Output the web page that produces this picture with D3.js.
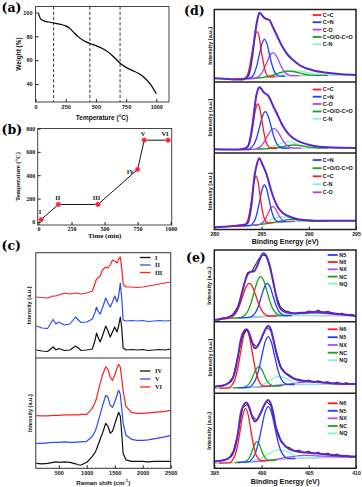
<!DOCTYPE html>
<html><head><meta charset="utf-8">
<script src="https://cdn.jsdelivr.net/npm/d3@7"></script>
<style>html,body{margin:0;padding:0;background:#fff}svg{display:block}</style>
</head><body>
<svg id="fig" width="362" height="487"></svg>
<script>
// ---------------- (a) TGA ----------------
const tgaTemp   = [25,30,40,55,80,110,150,200,250,280,310,350,400,450,500,550,600,650,700,750,800,850,900,950,1000];
const tgaWeight = [99.5,97.5,95,93.6,92.6,92,91.2,90.2,88.8,87,84,80,76.3,74,72.2,70,67,62.5,57.5,54,51.5,49,45.5,40,32];
const tgaMarks  = [150,450,700];
const aTicksX = [0,250,500,750,1000];
const aTicksY = [40,60,80,100];
// ---------------- (b) heating program ----------------
const progTime   = [20,150,450,750,800,980];
const progTemp   = [20,150,150,450,700,700];
const progLabels = ["I","II","III","IV","V","VI"];
const bTicksX = [0,250,500,750,1000];
const bTicksY = [0,200,400,600,800];
// ---------------- (c) Raman ----------------
const ramanShift = [100,200,300,400,450,500,600,700,800,850,900,1000,1100,1150,1175,1200,1240,1280,1340,1380,1420,1460,1500,1540,1570,1600,1625,1650,1700,1800,1900,2000,2100,2200,2300,2400,2500];
const ramanI   = [8,7,6.5,11,8,9.5,7.5,8,12,10,7.5,8,9,18,25,21,16,22,32,27,21,26,31,26,32,41,30,10,8,8.5,8,8.5,7.5,8,8.5,8,9];
const ramanII  = [32,30,29.5,38.5,34,36,33,34,41,38,35.5,36,39,46,51,47,44,50,60,55,51,56,62,56,62,75,60,38,37,37.5,37,37.5,36.5,37,37.5,37,37.5];
const ramanIII = [61,60.5,60,62,62,63,65,64,65,64.5,64,65,67,75,79,80,82,88,91,90,93,98,97,95,99,101,90,74,71,71,70.5,71,72,73,74,75,76];
const ramanIV  = [5,4.5,5,6,6.5,6,6.5,6,4.5,3.5,3.3,6,12,16,19,23,29,35,45,42,35,37,44,51,56,52,35,15,8.5,7,7,7,6.5,7,7,7,7];
const ramanV   = [25,25,25.5,26,26,26,26.5,26,26,26.5,26.5,27,32,37,41,46,54,62,73,71,63,61,66,73,78,74,60,45,33,29,28,28,28.5,29.5,30.5,31.5,33];
const ramanVI  = [52.7,52.5,52.5,53,53,53,53.5,53.5,53.5,53.5,54,54,60,66,70,76,85,93,101.5,99,91,88,93,100,104,101,90,78,62,56,55,55,55.5,56,56.5,57,58];
const ramanUpperNames = ["I","II","III"];
const ramanLowerNames = ["IV","V","VI"];
const cTicksX = [500,1000,1500,2000,2500];
// ---------------- (d) C 1s ----------------
const dNames = ["C=C","C=N","C-O","C=O/O-C=O","C-N"];
const d1Legend = ["C=C","C=N","C-O","C=O/O-C=O","C-N"];
const d2Legend = ["C=C","C=N","C-O","C=O/O-C=O","C-N"];
const d3Legend = ["C=N","C=O/O-C=O","C=C","C-N","C-O"];
const dTicksX = [280,285,290,295];
const d1Envelope = [[280,3.7],[281,3.2],[282,2.6],[282.8,2.4],[283.2,3.2],[283.53,5.3],[283.8,13],[284.06,28.7],[284.25,43],[284.42,55],[284.6,64],[284.77,69.3],[284.95,68],[285.2,65],[285.5,63.2],[285.83,62],[286.1,57],[286.4,51],[286.7,45],[287.2,35.5],[287.8,27],[288.4,21.5],[289,17],[289.8,13.5],[290.6,11.3],[291.5,9.8],[292.4,8.7],[293.5,7.7],[295,7]];
const d1Background = [[280,3.7],[282,3],[283.5,3.3],[284.5,3.8],[285.5,4.6],[286.5,5.4],[287.5,6],[289,6.4],[295,7]];
const d1Peaks = [
 [[282,3],[283.1,3.4],[283.4,5.2],[283.6,9.6],[283.8,18.6],[284.05,32],[284.3,45],[284.52,50.3],[284.75,45.2],[284.95,32.4],[285.2,19.3],[285.4,10.6],[285.6,6.5],[285.85,5.1],[286.5,5.4]],
 [[283,3.2],[283.71,3.5],[283.98,5.2],[284.24,8.8],[284.5,16.3],[284.77,27.3],[285.04,38.1],[285.3,42.7],[285.57,38.4],[285.83,28],[286.1,17.5],[286.36,10.4],[286.63,7.1],[286.89,5.9],[287.5,6]],
 [[283.5,3.3],[284.22,3.5],[284.55,4.7],[284.88,7.1],[285.21,12],[285.54,19.1],[285.87,26.2],[286.2,29.3],[286.53,26.7],[286.86,20.3],[287.19,13.7],[287.52,9.2],[287.85,7.1],[288.18,6.4],[289,6.4]],
 [[284,3.6],[284.5,3.8],[285.05,4.4],[285.6,5.4],[286.15,6.7],[286.7,8.5],[287.25,10.2],[287.8,11],[288.35,10.5],[288.9,9.3],[289.45,8],[290,7.2],[290.55,6.7],[291.1,6.6],[292,6.7]],
 [[283.5,3.3],[284.3,3.7],[285,4.4],[285.7,5.5],[286.4,6.9],[287.1,8.7],[287.8,10.3],[288.5,11],[289.2,10.6],[289.9,9.4],[290.6,8.1],[291.3,7.3],[292,6.9],[292.7,6.8],[294,6.9]]
];
const d2Envelope = [[280,3.7],[281,3.5],[282,3.4],[282.8,3.8],[283.2,4.6],[283.53,6.3],[283.8,14],[284.06,29.7],[284.25,44],[284.42,56],[284.6,63],[284.77,65.7],[284.95,64.5],[285.2,61],[285.45,59],[285.65,58],[285.95,53],[286.3,45.5],[286.7,38],[287.2,28],[287.8,19.7],[288.4,14.5],[289,11.3],[289.8,8.8],[290.6,7],[291.5,6],[292.5,5.4],[295,5]];
const d2Background = [[280,3.6],[283,3.4],[284,3.7],[285,4.1],[286,4.4],[287,4.6],[288,4.8],[290,4.9],[295,5]];
const d2Peaks = [
 [[282,3.4],[283.25,3.5],[283.48,5.5],[283.7,9.8],[283.93,18.5],[284.15,31.4],[284.38,44.1],[284.6,49],[284.83,44.2],[285.05,31.7],[285.28,19],[285.5,10.5],[285.73,6.4],[285.95,5],[286.6,4.5]],
 [[283,3.4],[283.6,3.5],[283.9,5.2],[284.2,8.7],[284.5,15.8],[284.8,26.3],[285.1,36.8],[285.4,41.3],[285.7,37],[286,26.8],[286.3,16.5],[286.6,9.5],[286.9,6.2],[287.2,5],[288,4.8]],
 [[283.5,3.5],[284.2,3.7],[284.55,4.7],[284.9,6.6],[285.25,10.7],[285.6,16.6],[285.95,22.2],[286.3,24.7],[286.65,22.4],[287,16.9],[287.35,11.3],[287.7,7.4],[288.05,5.7],[288.4,4.8],[289.2,4.9]],
 [[284.5,3.8],[285.1,4.1],[285.65,4.4],[286.2,4.9],[286.75,5.6],[287.3,6.6],[287.85,7.6],[288.4,8],[288.95,7.6],[289.5,6.8],[290.05,5.9],[290.6,5.3],[291.15,5],[292,5]],
 [[284,3.7],[284.8,3.9],[285.3,4.4],[285.8,5.2],[286.3,6.6],[286.8,8.6],[287.3,10.5],[287.8,11.3],[288.3,10.6],[288.8,8.8],[289.3,7],[289.8,5.8],[290.3,5.2],[290.8,5],[292,5]]
];
const d3Envelope = [[280,2.2],[281,2.8],[282,3.6],[283,4.5],[283.5,6],[283.75,14],[283.95,26],[284.25,52.8],[284.5,65],[284.77,71.2],[285.05,66],[285.5,56],[285.75,48],[286,39.5],[286.35,30],[286.7,22.8],[287.2,17],[287.8,13.5],[288.4,11.5],[289,10],[289.8,9.3],[290.6,8.8],[292,8.7],[295,8.8]];
const d3Background = [[280,2.2],[282,3.2],[283.5,3.8],[284.5,4.5],[285.5,5.8],[286.5,7],[287.5,7.8],[289,8.2],[295,8.5]];
const d3Peaks = [
 [[282,3.2],[283.16,3.7],[283.37,6],[283.58,10.5],[283.79,19.9],[284,33.9],[284.21,47.6],[284.42,53.5],[284.63,47.9],[284.84,34.6],[285.05,20.9],[285.26,11.9],[285.47,7.8],[285.68,6.4],[286.3,6.8]],
 [[283,3.5],[283.8,4],[284.05,5.8],[284.3,9.6],[284.55,17.3],[284.8,28.6],[285.05,39.5],[285.3,44.5],[285.55,40.3],[285.8,29.8],[286.05,19.1],[286.3,12],[286.55,8.7],[286.8,7.6],[287.6,7.9]],
 [[284,4.2],[284.68,4.7],[284.93,5.7],[285.18,7.5],[285.43,10.9],[285.68,15.8],[285.93,20.6],[286.18,22.8],[286.43,21.2],[286.68,17],[286.93,12.6],[287.18,9.8],[287.43,8.4],[287.68,7.9],[288.5,8.1]],
 [[284,4.2],[285.1,5.3],[286.1,6.9],[286.6,7.7],[287.1,8.7],[287.6,9.6],[288.1,10],[288.6,9.9],[289.1,9.4],[289.6,8.9],[290.1,8.6],[291.1,8.4],[292,8.4]],
 [[283.5,3.8],[284.07,4.2],[284.57,4.7],[285.07,5.9],[285.57,7.6],[286.07,9.8],[286.57,11.8],[287.07,12.8],[287.57,12.5],[288.07,11.2],[288.57,9.8],[289.07,8.9],[289.57,8.5],[290.07,8.3],[291,8.4]]
];
// ---------------- (e) N 1s ----------------
const eNames = ["N6","N5","NC","NQ","NX"];
const e1Legend = ["N5","N6","NX","NC","NQ"];
const e2Legend = ["N6","N5","NX","NC","NQ"];
const e3Legend = ["N6","N5","NX","NC","NQ"];
const eTicksX = [395,400,405,410];
const eGrid = [395,395.5,396,396.5,397,397.5,398,398.5,399,399.5,400,400.5,401,401.5,402,402.5,403,403.5,404,404.5,405,405.5,406,406.5,407,407.5,408,408.5,409,409.5,410];
const e1Data = [2.2,1.5,3.9,4.1,7.6,15.5,31,48.9,50.6,59.5,67,65.6,50.4,27.4,14.8,10.9,9.6,8.1,9.4,8.2,10.8,9.1,11.6,9.2,10.3,8.9,7.2,8.6,6.4,7.4,5.9];
const e2Data = [5.8,7.6,7.4,10.6,16.5,37.2,58,64.1,50.4,46.6,54.5,66,62.4,43.9,27.5,20.4,18.2,14,14.1,12,13.3,11.2,12.6,10.5,11.7,9.4,11.1,9.2,10.6,8.8,9.9];
const e3Data = [7.4,6.8,8.6,9.5,16.8,34.5,60.7,64,52.6,48,57.6,67.1,62.4,42.5,29.4,21.8,20.6,17,18.1,15.3,17.2,14.4,16.1,13.5,15.2,12.7,14.3,11.8,13.1,11.2,12.4];
const e1Envelope = [[395,1.7],[395.5,2.5],[396,3.5],[396.5,4.6],[396.9,6.5],[397.3,10.5],[397.6,17],[398,31.7],[398.3,42],[398.6,48.5],[398.9,50],[399.2,50.5],[399.5,55],[399.8,62],[400.2,68.4],[400.5,66],[400.8,58.4],[401.2,41.7],[401.5,28],[401.8,17],[402.1,12],[402.5,9.8],[403,8.8],[403.8,8.4],[404.7,9.2],[405.6,10],[406.5,9.5],[407.4,8.4],[408.5,7.4],[410,5.7]];
const e1Background = [[395,1.7],[396,3],[397,3.5],[398,4],[399,4.5],[400,5],[401,5.5],[402,6],[404,6],[410,5.7]];
const e1Peaks = [
 [[395.5,2.5],[396.54,3.3],[396.9,5],[397.26,8.3],[397.62,15],[397.98,24.7],[398.34,34.3],[398.7,38.4],[399.06,34.6],[399.42,25.4],[399.78,16],[400.14,9.6],[400.5,6.7],[400.86,5.8],[401.6,5.8]],
 [[397.5,3.8],[398.74,4.4],[399.05,6],[399.36,9.2],[399.67,15.5],[399.98,25.1],[400.29,34.3],[400.6,38.4],[400.91,34.6],[401.22,25.7],[401.53,16.4],[401.84,10.4],[402.15,7.5],[402.46,6.1],[403.2,6]],
 [[396.8,3.6],[397.8,4],[398.15,5.9],[398.5,9.7],[398.85,17.5],[399.2,28.9],[399.55,40.1],[399.9,45],[400.25,40.4],[400.6,29.6],[400.95,18.5],[401.3,11],[401.65,7.6],[402,6],[402.8,6]],
 [[398,4],[399,4.5],[400.5,5.8],[401.5,6.8],[402.3,7.5],[403.2,7.2],[404.5,6.5],[406,6],[407,5.9]],
 [[399,4.5],[400,5],[401,5.6],[402,6.2],[403.5,7.5],[404.5,8.3],[405.5,8.7],[406.5,8.3],[407.5,7.6],[409,6.5],[410,6]]
];
const e2Envelope = [[395,6.6],[395.5,7.2],[396,8],[396.5,10],[396.9,14],[397.2,22],[397.5,36.6],[397.8,53.3],[398.1,61.5],[398.4,64],[398.7,60],[399,51],[399.3,45],[399.6,47.5],[399.9,53],[400.2,60],[400.5,65.5],[400.7,67.3],[401,63.5],[401.3,52],[401.5,43.3],[401.75,34],[402,26.7],[402.4,21.5],[402.8,18.3],[403.3,15.3],[403.8,13.3],[404.7,12.3],[405.6,11.6],[406.5,10.8],[407.4,10],[408.5,9.6],[410,9.3]];
const e2Background = [[395,5],[397,5.5],[399,6],[401,7],[403,8.5],[406,9],[410,9]];
const e2Peaks = [
 [[395.5,5.1],[396.54,5.4],[396.85,8],[397.16,13.3],[397.47,24.3],[397.78,40.6],[398.09,56.4],[398.4,63.3],[398.71,56.6],[399.02,40.9],[399.33,24.8],[399.64,14.1],[399.95,9],[400.26,7.2],[401,7]],
 [[397.5,5.6],[398.66,5.9],[399,8.2],[399.34,13],[399.68,22.6],[400.02,36.8],[400.36,50.7],[400.7,56.7],[401.04,51],[401.38,37.6],[401.72,23.7],[402.06,14.6],[402.4,10.2],[402.74,8.9],[403.5,8.7]],
 [[397,5.5],[398.05,5.7],[398.33,6.7],[398.6,8.7],[398.88,12.6],[399.15,18.5],[399.43,24.2],[399.7,26.7],[399.98,24.5],[400.25,19],[400.53,13.3],[400.8,9.7],[401.08,7.9],[401.35,7.2],[402.2,7.8]],
 [[397.5,5.6],[398.8,5.9],[399.3,6.5],[399.8,7.5],[400.3,9.6],[400.8,12.5],[401.3,15.3],[401.8,16.7],[402.3,16],[402.8,13.9],[403.3,11.5],[403.8,9.9],[404.3,9.2],[404.8,8.9],[406,9]],
 [[398,5.8],[400,6.7],[401.5,7.8],[403,9.4],[404,10.8],[405,11.5],[406,11.1],[407.5,10],[409,9.2],[410,9]]
];
const e3Envelope = [[395,6.7],[395.5,7.3],[396,8],[396.5,10],[396.9,13.5],[397.2,21],[397.5,35],[397.8,55],[398.1,63],[398.4,65.7],[398.7,61],[399,52],[399.3,46.7],[399.6,49.5],[399.9,55],[400.2,61.5],[400.5,66.5],[400.7,68.3],[401,64],[401.3,52.5],[401.5,41.7],[401.75,34],[402,28.3],[402.4,23.5],[402.8,20],[403.3,18],[403.8,16.7],[404.7,15.8],[405.6,15],[406.5,14.2],[407.4,13.3],[408.5,12.5],[410,11.6]];
const e3Background = [[395,5],[397,5.5],[399,6.5],[401,8],[403,9.5],[406,10.5],[410,11]];
const e3Peaks = [
 [[395.5,5.2],[396.65,5.6],[396.93,8.1],[397.2,13.1],[397.48,23.4],[397.75,38.6],[398.03,53.6],[398.3,60],[398.58,53.9],[398.85,39.1],[399.13,24.1],[399.4,14.1],[399.68,9.4],[399.95,7.8],[400.7,7.6]],
 [[397.5,5.8],[398.6,6.4],[398.95,8.9],[399.3,14.1],[399.65,24.6],[400,40.1],[400.35,55.2],[400.7,61.7],[401.05,55.8],[401.4,41.2],[401.75,26.2],[402.1,16.2],[402.45,11.5],[402.8,9.9],[403.6,9.8]],
 [[397.2,5.8],[398.15,6.2],[398.38,7.2],[398.6,9.1],[398.83,12.9],[399.05,18.6],[399.28,24.2],[399.5,26.7],[399.73,24.5],[399.95,19.2],[400.18,13.8],[400.4,10.2],[400.63,8.6],[400.85,7.8],[401.6,8.3]],
 [[397.2,5.8],[398.2,6.2],[398.8,6.9],[399.4,8.1],[400,10.3],[400.6,13.6],[401.2,16.8],[401.8,18.3],[402.4,17.6],[403,15.4],[403.6,12.8],[404.2,11.2],[404.8,10.5],[405.4,10.3],[406.5,10.6]],
 [[398,6.3],[400,7.2],[401.5,8.8],[403,11.5],[404.5,13],[406,12.3],[407.5,11.8],[409,11.3],[410,11.1]]
];

// ================= drawing =================
const SANS = "'Liberation Sans', Arial, sans-serif";
const SERIF = "'Liberation Serif', 'Times New Roman', serif";
const svg = d3.select("#fig");
const defs = svg.append("defs");
let clipId = 0;
function clipRect(x0,y0,x1,y1){
  const id = "clip"+(clipId++);
  defs.append("clipPath").attr("id",id).append("rect").attr("x",x0).attr("y",y0).attr("width",x1-x0).attr("height",y1-y0);
  return "url(#"+id+")";
}
function frame(x0,y0,x1,y1,sw,col){
  svg.append("rect").attr("x",x0).attr("y",y0).attr("width",x1-x0).attr("height",y1-y0)
    .attr("fill","none").attr("stroke",col||"#333").attr("stroke-width",sw||1);
}
function txt(s,x,y,opt){
  opt = opt||{};
  const t = svg.append("text").attr("x",x).attr("y",y)
    .attr("font-family",opt.font||SANS).attr("font-weight","bold")
    .attr("font-size",opt.size||6).attr("fill",opt.fill||"#111")
    .attr("text-anchor",opt.anchor||"start").text(s);
  if(opt.rot) t.attr("transform",`rotate(-90,${x},${y})`);
  return t;
}
function bottomAxis(scale,y,ticks,font,size,pad){
  const g = svg.append("g").attr("transform",`translate(0,${y})`)
    .call(d3.axisBottom(scale).tickValues(ticks).tickSize(-3).tickPadding(pad==null?3:pad).tickFormat(d3.format("d")));
  g.select(".domain").remove();
  g.selectAll("line").attr("stroke","#222");
  g.selectAll("text").attr("font-family",font).attr("font-weight","bold").attr("font-size",size).attr("fill","#111");
}
function leftAxis(scale,x,ticks,font,size,pad){
  const g = svg.append("g").attr("transform",`translate(${x},0)`)
    .call(d3.axisLeft(scale).tickValues(ticks).tickSize(-3).tickPadding(pad==null?3:pad).tickFormat(d3.format("d")));
  g.select(".domain").remove();
  g.selectAll("line").attr("stroke","#222");
  g.selectAll("text").attr("font-family",font).attr("font-weight","bold").attr("font-size",size).attr("fill","#111");
}
function panelLabel(s,x,y){ txt(s,x,y,{font:"'DejaVu Serif', serif",size:12.5,fill:"#000"}); }

// ----- (a) -----
{
  const x = d3.scaleLinear().domain([0,1105]).range([35.5,169]);
  const y = d3.scaleLinear().domain([25,105]).range([102,6.5]);
  const g = svg.append("g").attr("clip-path",clipRect(35.5,6.5,169,102));
  g.selectAll("line.mark").data(tgaMarks).enter().append("line")
    .attr("x1",d=>x(d)).attr("x2",d=>x(d)).attr("y1",y(105)).attr("y2",y(25))
    .attr("stroke","#222").attr("stroke-width",0.9).attr("stroke-dasharray","3.2,2");
  g.append("path").datum(tgaTemp.map((t,i)=>[t,tgaWeight[i]]))
    .attr("d",d3.line().x(d=>x(d[0])).y(d=>y(d[1])).curve(d3.curveMonotoneX))
    .attr("fill","none").attr("stroke","#000").attr("stroke-width",1.2);
  frame(35.5,6.5,169,102,1,"#444");
  bottomAxis(x,102,aTicksX,SANS,5.5);
  leftAxis(y,35.5,aTicksY,SANS,5.5);
  txt("Weight (%)",20.5,54,{rot:true,anchor:"middle",size:6.5});
  txt("Temperature (°C)",102,119.5,{anchor:"middle",size:6.5});
  panelLabel("(a)",1.5,12.4);
}
// ----- (b) -----
{
  const x = d3.scaleLinear().domain([-6,1008]).range([37.7,171.7]);
  const y = d3.scaleLinear().domain([-26,800]).range([225,128.5]);
  const pts = progTime.map((t,i)=>[t,progTemp[i],progLabels[i]]);
  svg.append("path").datum(pts).attr("d",d3.line().x(d=>x(d[0])).y(d=>y(d[1])))
    .attr("fill","none").attr("stroke","#111").attr("stroke-width",1);
  svg.selectAll("circle.pt").data(pts).enter().append("circle")
    .attr("cx",d=>x(d[0])).attr("cy",d=>y(d[1])).attr("r",2.4)
    .attr("fill","#ff1f2f").attr("stroke","#ff7090").attr("stroke-width",0.6);
  const off = {"I":[-1,-6,"middle"],"II":[-0.5,-4,"middle"],"III":[-1.5,-4,"middle"],"IV":[-3.5,5,"end"],"V":[-1,-4.5,"middle"],"VI":[-3,-4.5,"middle"]};
  pts.forEach(d=>{
    const o = off[d[2]];
    txt(d[2],x(d[0])+o[0],y(d[1])+o[1],{font:SERIF,size:6.5,anchor:o[2]});
  });
  frame(37.7,128.5,171.7,225,1,"#444");
  bottomAxis(x,225,bTicksX,SERIF,6,2);
  leftAxis(y,37.7,bTicksY,SERIF,6,2.5);
  txt("Temperature (°C)",20.5,176.7,{rot:true,anchor:"middle",size:6.5,font:SERIF});
  txt("Time (min)",104.7,237.8,{anchor:"middle",size:7,font:SERIF});
  panelLabel("(b)",1.5,134.4);
}
// ----- (c) -----
{
  const x = d3.scaleLinear().domain([90,2500]).range([35.8,170.7]);
  const yU = d3.scaleLinear().domain([0,105.3]).range([358,252.7]);
  const yL = d3.scaleLinear().domain([0,110.3]).range([468.3,358]);
  const cols = ["#111111","#2a4cff","#ff2020"];
  const up = svg.append("g").attr("clip-path",clipRect(35.8,252.7,170.7,358));
  [ramanI,ramanII,ramanIII].forEach((s,k)=>{
    up.append("path").datum(s).attr("d",d3.line().x((d,i)=>x(ramanShift[i])).y(d=>yU(d)))
      .attr("fill","none").attr("stroke",cols[k]).attr("stroke-width",1.2).attr("stroke-linejoin","round");
  });
  const lo = svg.append("g").attr("clip-path",clipRect(35.8,358,170.7,468.3));
  [ramanIV,ramanV,ramanVI].forEach((s,k)=>{
    lo.append("path").datum(s).attr("d",d3.line().x((d,i)=>x(ramanShift[i])).y(d=>yL(d)))
      .attr("fill","none").attr("stroke",cols[k]).attr("stroke-width",1.2).attr("stroke-linejoin","round");
  });
  frame(35.8,252.7,170.7,468.3,1,"#333");
  svg.append("line").attr("x1",35.8).attr("x2",170.7).attr("y1",358).attr("y2",358).attr("stroke","#333").attr("stroke-width",1.2);
  const legYU = [257.5,265,272.5], legYL = [371,379,387];
  ramanUpperNames.forEach((n,k)=>{
    svg.append("line").attr("x1",140).attr("x2",150.5).attr("y1",legYU[k]).attr("y2",legYU[k]).attr("stroke",cols[k]).attr("stroke-width",1.3);
    txt(n,155,legYU[k]+2,{font:SERIF,size:6.2});
  });
  ramanLowerNames.forEach((n,k)=>{
    svg.append("line").attr("x1",140).attr("x2",150.5).attr("y1",legYL[k]).attr("y2",legYL[k]).attr("stroke",cols[k]).attr("stroke-width",1.3);
    txt(n,155,legYL[k]+2,{font:SERIF,size:6.2});
  });
  bottomAxis(x,468.3,cTicksX,SANS,5.5);
  txt("Intensity (a.u.)",31.5,305.3,{rot:true,anchor:"middle",size:5.6});
  txt("Intensity (a.u.)",31.5,413,{rot:true,anchor:"middle",size:5.6});
  const rl = txt("Raman shift (cm",103.3,484.5,{anchor:"middle",size:6.2});
  rl.append("tspan").attr("dy",-2.2).attr("font-size",4.2).text("-1");
  rl.append("tspan").attr("dy",2.2).text(")");
  panelLabel("(c)",1.5,250);
}
// ----- (d) and (e) shared -----
const compColorD = {"C=C":"#ff1a1a","C=N":"#1f3fff","C-O":"#b93ce8","C=O/O-C=O":"#18a318","C-N":"#86f2d6"};
const compColorE = {"N6":"#ff1a1a","N5":"#1f3fff","NX":"#a94dff","NC":"#18a318","NQ":"#86f2d6"};
const ENV = "#5b27c9";
function xpsPanel(x,top,bot,env,bg,peaks,names,colorOf,order,legend,legX,legYs,dataGrid,dataVals){
  const y = d3.scaleLinear().domain([0,bot-top]).range([bot,top]);
  const g = svg.append("g").attr("clip-path",clipRect(x.range()[0],top,x.range()[1],bot));
  const ln = d3.line().x(d=>x(d[0])).y(d=>y(d[1])).curve(d3.curveMonotoneX);
  g.append("path").datum(bg).attr("d",ln).attr("fill","none").attr("stroke","#c4c4c4").attr("stroke-width",1.2);
  order.forEach(nm=>{
    const k = names.indexOf(nm);
    g.append("path").datum(peaks[k]).attr("d",ln).attr("fill","none").attr("stroke",colorOf[nm]).attr("stroke-width",1.3);
  });
  if(dataVals){
    g.append("path").datum(dataVals).attr("d",d3.line().x((d,i)=>x(dataGrid[i])).y(d=>y(d)))
      .attr("fill","none").attr("stroke","#111").attr("stroke-width",1);
  }
  g.append("path").datum(env).attr("d",ln).attr("fill","none").attr("stroke",ENV).attr("stroke-width",2);
  legend.forEach((nm,k)=>{
    svg.append("line").attr("x1",legX[0]).attr("x2",legX[1]).attr("y1",legYs[k]).attr("y2",legYs[k]).attr("stroke",colorOf[nm]).attr("stroke-width",1.8);
    txt(nm,legX[2],legYs[k]+1.9,{size:5.4});
  });
  txt("Intensity (a.u.)",legX[3],(top+bot)/2,{rot:true,anchor:"middle",size:5.6});
}
// ----- (d) -----
{
  const x = d3.scaleLinear().domain([280,295]).range([214.3,356]);
  const ord = ["C-N","C=O/O-C=O","C-O","C=N","C=C"];
  const lx = [312.7,321.5,322.8,211.5];
  xpsPanel(x,9.5,82,d1Envelope,d1Background,d1Peaks,dNames,compColorD,ord,d1Legend,lx,[15,22.2,29.6,37,44.2]);
  xpsPanel(x,82,153,d2Envelope,d2Background,d2Peaks,dNames,compColorD,ord,d2Legend,lx,[89.5,96.7,104,111.5,118.8]);
  xpsPanel(x,153,229.5,d3Envelope,d3Background,d3Peaks,dNames,compColorD,ord,d3Legend,lx,[160,168.2,176.3,184.3,192.3]);
  frame(214.3,9.5,356,229.5,1.5,"#222");
  [82,153].forEach(v=>svg.append("line").attr("x1",214.3).attr("x2",356).attr("y1",v).attr("y2",v).attr("stroke","#222").attr("stroke-width",1.5));
  bottomAxis(x,229.5,dTicksX,SANS,5.2);
  txt("Binding Energy (eV)",285.2,243.8,{anchor:"middle",size:7});
  panelLabel("(d)",184,15);
}
// ----- (e) -----
{
  const x = d3.scaleLinear().domain([395,410]).range([214.3,356]);
  const ord = ["NX","NQ","NC","N5","N6"];
  const lx = [327.7,337.7,339.3,211.5];
  xpsPanel(x,250,321.7,e1Envelope,e1Background,e1Peaks,eNames,compColorE,ord,e1Legend,lx,[255,262,269.3,276.6,283.6],eGrid,e1Data);
  xpsPanel(x,321.7,393.3,e2Envelope,e2Background,e2Peaks,eNames,compColorE,ord,e2Legend,lx,[329.3,337.2,345,352.7,360.2],eGrid,e2Data);
  xpsPanel(x,393.3,468.3,e3Envelope,e3Background,e3Peaks,eNames,compColorE,ord,e3Legend,lx,[403.3,410.8,418.3,426,433.4],eGrid,e3Data);
  frame(214.3,250,356,468.3,1.5,"#222");
  [321.7,393.3].forEach(v=>svg.append("line").attr("x1",214.3).attr("x2",356).attr("y1",v).attr("y2",v).attr("stroke","#222").attr("stroke-width",1.5));
  bottomAxis(x,468.3,eTicksX,SANS,5.2);
  txt("Binding Energy (eV)",285.2,484,{anchor:"middle",size:7.2});
  panelLabel("(e)",186,262.4);
}
</script>
</body></html>
